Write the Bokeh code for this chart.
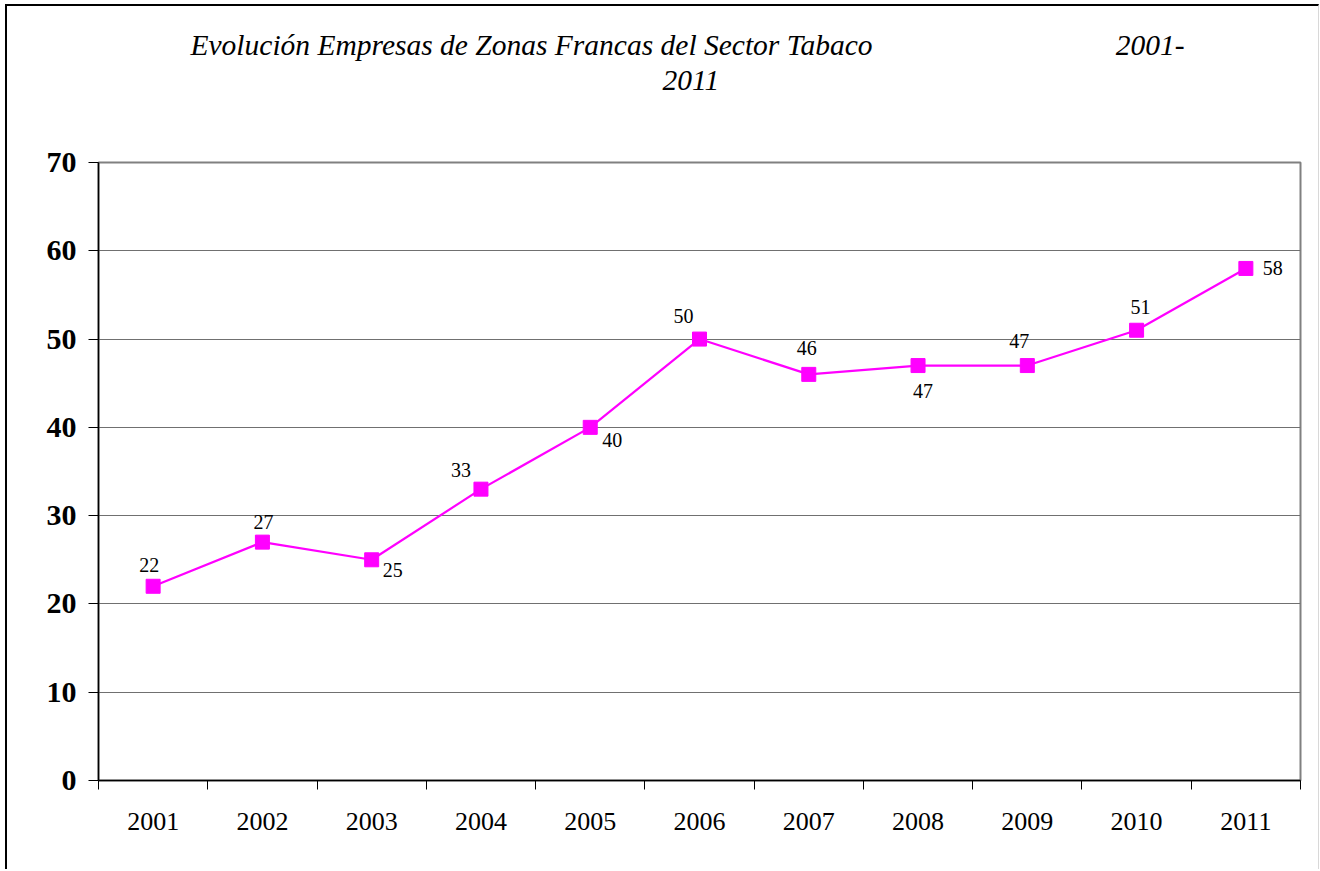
from bokeh.plotting import figure
from bokeh.models import FixedTicker, Range1d, ColumnDataSource, Title
from bokeh.embed import file_html
from bokeh.resources import INLINE
from bokeh.core.properties import value

years = ["2001", "2002", "2003", "2004", "2005", "2006", "2007", "2008", "2009", "2010", "2011"]
empresas = [22, 27, 25, 33, 40, 50, 46, 47, 47, 51, 58]
y_ticks = [0, 10, 20, 30, 40, 50, 60, 70]
title_main = "Evolución Empresas de Zonas Francas del Sector Tabaco"
title_years_a = "2001-"
title_years_b = "2011"

# label placement offsets (screen px)
label_dx = [-4, 1, 21, -20, 22, -16, -2, 5, -8, 4, 27]
label_dy = [-21, -20, 10, -19, 13, -23, -26, 25, -25, -23, 0]

idx = list(range(len(years)))
FONT = "Liberation Serif"
MAGENTA = "#FF00FF"
NB = "\u00a0"

p = figure(width=1314, height=865, output_backend="svg", toolbar_location=None,
           x_range=Range1d(-0.5, len(years) - 0.5), y_range=Range1d(0, 70),
           min_border_left=91, min_border_right=21, min_border_top=156, min_border_bottom=91,
           background_fill_color="white", border_fill_color="white")
p.styles = {"margin-left": "5px", "margin-top": "4px",
            "border-left": "2px solid black", "border-top": "2px solid black",
            "border-right": "1px solid #d8d8d8"}

p.outline_line_color = "#808080"
p.outline_line_width = 2
p.xgrid.grid_line_color = None
p.ygrid.grid_line_color = "#707070"
p.ygrid.grid_line_width = 1

# y axis
p.yaxis.ticker = FixedTicker(ticks=y_ticks)
p.yaxis.major_label_text_font = FONT
p.yaxis.major_label_text_font_size = "30px"
p.yaxis.major_label_text_font_style = "bold"
p.yaxis.major_label_text_color = "black"
p.yaxis.major_tick_out = 10
p.yaxis.major_tick_in = 0
p.yaxis.minor_tick_line_color = None
p.yaxis.axis_line_color = "black"
p.yaxis.axis_line_width = 1.5
p.yaxis.major_tick_line_color = "black"
p.yaxis.major_label_standoff = 12

# x axis
p.xaxis.ticker = FixedTicker(ticks=idx, minor_ticks=[i - 0.5 for i in range(len(years) + 1)])
p.xaxis.major_label_overrides = {i: y for i, y in zip(idx, years)}
p.xaxis.major_label_text_font = FONT
p.xaxis.major_label_text_font_size = "26px"
p.xaxis.major_label_text_color = "black"
p.xaxis.major_tick_out = 0
p.xaxis.major_tick_in = 0
p.xaxis.minor_tick_out = 9
p.xaxis.minor_tick_in = 0
p.xaxis.minor_tick_line_color = "black"
p.xaxis.axis_line_color = "black"
p.xaxis.axis_line_width = 1.5
p.xaxis.major_label_standoff = 23

src = ColumnDataSource(dict(x=idx, y=empresas, t=[str(v) for v in empresas],
                            dx=label_dx, dy=label_dy))
p.line("x", "y", source=src, line_color=MAGENTA, line_width=2.2)
p.scatter("x", "y", source=src, marker="square", size=14, fill_color=MAGENTA,
          line_color=MAGENTA)
p.text("x", "y", text="t", source=src, x_offset="dx", y_offset="dy",
       text_font=value(FONT), text_font_size="20px", text_color="black",
       text_align="center", text_baseline="middle")

# spacer between plot and title
p.add_layout(Title(text=NB, text_font_size="2px", standoff=62), "above")
# two-line title
title_text = title_main + NB * 33 + title_years_a + "\n" + NB * 64 + title_years_b
p.add_layout(Title(text=title_text, text_font=FONT, text_font_size="29.5px",
                   text_font_style="italic", text_color="black",
                   text_line_height=1.12,
                   align="left", offset=92, standoff=0), "above")

open("out.html", "w").write(file_html(p, INLINE))
